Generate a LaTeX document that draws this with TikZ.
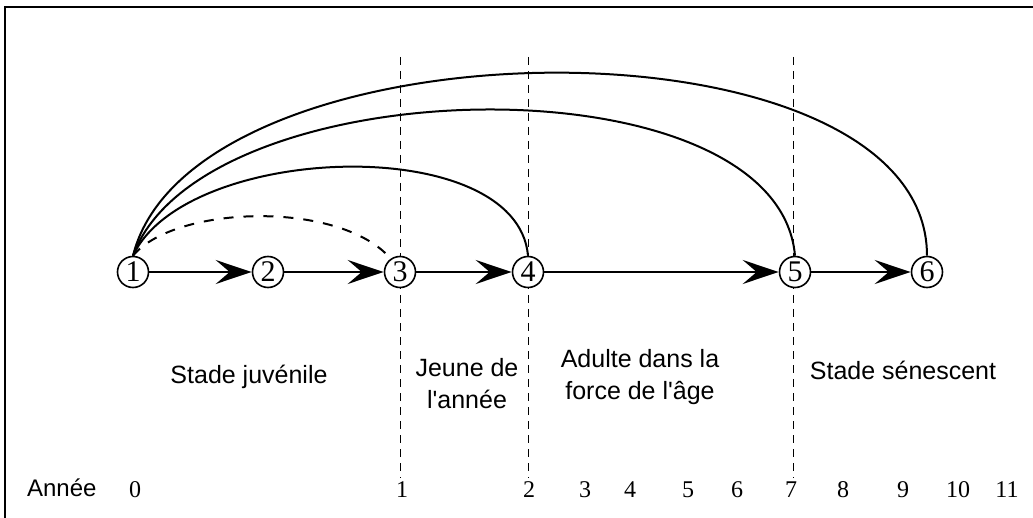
\documentclass[tikz,border=0pt]{standalone}
\usepackage{fontspec}
\setmainfont{Liberation Sans}[Ligatures=TeXOff]
\newfontfamily\numfont{Liberation Serif}
\usetikzlibrary{arrows.meta}

\tikzset{
  stage/.style={circle, draw, fill=white, line width=0.8pt, minimum size=15.5pt,
    inner sep=0pt, font=\numfont\fontsize{15}{15}\selectfont},
  flow/.style={line width=0.9pt, -{Stealth[length=18pt,width=12pt,inset=7pt]}},
  jump/.style={line width=1pt},
  divider/.style={dash pattern=on 4pt off 3pt, line width=0.5pt},
  yearlbl/.style={anchor=base, font=\numfont\fontsize{12}{12}\selectfont},
  phase/.style={align=center, font=\fontsize{12.5}{16}\selectfont}
}

\begin{document}
\begin{tikzpicture}[x=0.5pt,y=0.5pt]
    \path[use as bounding box] (0,0) rectangle (1033,-518);

    % frame
    \draw[line width=0.8pt] (5,-518) -- (5,-7) -- (1033,-7);

    % stage boundaries
    \foreach \x in {400,528,793}
        \draw[divider] (\x,-57) -- (\x,-478);

    \node[stage] (n1) at (133,-272) {1};
    \node[stage] (n2) at (268,-272) {2};
    \node[stage] (n3) at (400,-272) {3};
    \node[stage] (n4) at (528,-272) {4};
    \node[stage] (n5) at (795,-272) {5};
    \node[stage] (n6) at (927,-272) {6};

    \draw[flow] (n1) -- (n2);
    \draw[flow] (n2) -- (n3);
    \draw[flow] (n3) -- (n4);
    \draw[flow] (n4) -- (n5);
    \draw[flow] (n5) -- (n6);

    \draw[jump, dash pattern=on 5pt off 5pt] (n1.north) .. controls (175,-205) and (340,-200) .. (n3.125);
    \draw[jump] (n1.north) to[out=65, in=95, looseness=0.81] (n4.north);
    \draw[jump] (n1.north) to[out=70, in=95, looseness=0.78] (n5.north);
    \draw[jump] (n1.north) to[out=76, in=90, looseness=0.8] (n6.north);

    \node[phase] (juv) at (249,-377) {Stade juvénile};
    \node[phase] (jeu) at (467,-384) {Jeune de\\l'année};
    \node[phase] (adu) at (640,-377) {Adulte dans la\\force de l'âge};
    \node[phase] (sen) at (903,-370) {Stade sénescent};

    \node[anchor=base west, font=\fontsize{12}{12}\selectfont] (an) at (20,-496) {Année};
    \foreach \v/\x in {0/135,1/402,2/529,3/585,4/630,5/688,6/737,7/791,8/843,9/903,10/958,11/1007}
        \node[yearlbl] (y\v) at (\x,-497) {\v};
\end{tikzpicture}
\end{document}
